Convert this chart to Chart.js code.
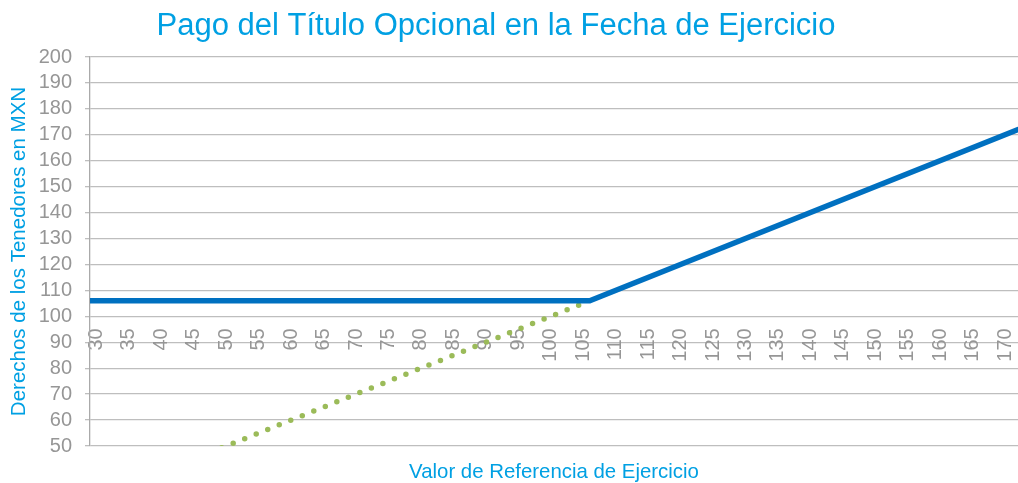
<!DOCTYPE html>
<html>
<head>
<meta charset="utf-8">
<script src="https://cdn.jsdelivr.net/npm/chart.js@4.4.1/dist/chart.umd.min.js"></script>
<style>
  html, body { margin: 0; padding: 0; background: #ffffff; }
  #wrap { width: 1018px; height: 483px; position: relative; }
</style>
</head>
<body>
<div id="wrap"><canvas id="c"></canvas></div>
<script>
// ---- data ----
const chartTitle = 'Pago del Título Opcional en la Fecha de Ejercicio';
const xTitle = 'Valor de Referencia de Ejercicio';
const yTitle = 'Derechos de los Tenedores en MXN';
const xTickLabels = [30,35,40,45,50,55,60,65,70,75,80,85,90,95,100,105,110,115,120,125,130,135,140,145,150,155,160,165,170];
const yTickLabels = [50,60,70,80,90,100,110,120,130,140,150,160,170,180,190,200];
// payoff of the warrant (solid blue)
const payoffX = [29, 106, 172];
const payoffY = [106, 106, 172];
// underlying reference value (green dotted)
const refX = [29, 106];
const refY = [29, 106];

const blue = 'rgb(0,112,192)';
const green = 'rgb(155,187,89)';
const titleBlue = 'rgb(0,160,227)';
const tickGray = 'rgb(150,150,150)';
const gridGray = 'rgb(190,190,190)';
const FONT = "'Liberation Sans', Arial, sans-serif";

const titlePlugin = {
  id: 'customTitle',
  afterDraw(chart) {
    const ctx = chart.ctx;
    ctx.save();
    ctx.font = '31px ' + FONT;
    ctx.fillStyle = titleBlue;
    ctx.textAlign = 'center';
    ctx.textBaseline = 'alphabetic';
    ctx.fillText(chartTitle, 496, 35);
    ctx.restore();
  }
};

new Chart(document.getElementById('c'), {
  type: 'line',
  data: {
    datasets: [
      {
        label: 'Pago',
        data: payoffX.map((x, i) => ({x: x, y: payoffY[i]})),
        borderColor: blue,
        borderWidth: 5.5,
        borderCapStyle: 'round',
        borderJoinStyle: 'miter',
        pointRadius: 0,
        tension: 0,
        order: 1
      },
      {
        label: 'Referencia',
        data: refX.map((x, i) => ({x: x, y: refY[i]})),
        borderColor: green,
        borderWidth: 5.5,
        borderDash: [0, 12.4],
        borderDashOffset: 7,
        borderCapStyle: 'round',
        pointRadius: 0,
        tension: 0,
        order: 2
      }
    ]
  },
  options: {
    responsive: true,
    maintainAspectRatio: false,
    animation: false,
    devicePixelRatio: 1,
    layout: { padding: { top: 57, left: 0, right: 0, bottom: 0 } },
    plugins: {
      legend: { display: false },
      title: { display: false },
      tooltip: { enabled: false }
    },
    scales: {
      x: {
        type: 'linear',
        min: 29,
        max: 172,
        position: { y: 100 },
        afterBuildTicks: (axis) => { axis.ticks = xTickLabels.map(v => ({ value: v })); },
        afterFit: (s) => { s.paddingLeft = 0; s.paddingRight = 0; },
        ticks: {
          autoSkip: false,
          minRotation: 90,
          maxRotation: 90,
          padding: 12,
          color: tickGray,
          font: { family: FONT, size: 20 }
        },
        grid: { display: false, drawTicks: false },
        border: { display: false }
      },
      x2: {
        type: 'linear',
        position: 'bottom',
        display: true,
        afterFit: (s) => { s.height = 37; s.paddingLeft = 0; s.paddingRight = 0; },
        ticks: { display: false },
        grid: { display: false, drawTicks: false },
        border: { display: false },
        title: {
          display: true,
          text: xTitle,
          color: titleBlue,
          font: { family: FONT, size: 20.4, lineHeight: 1 },
          padding: { top: 0, bottom: 0 }
        }
      },
      y: {
        type: 'linear',
        min: 50,
        max: 200,
        afterBuildTicks: (axis) => { axis.ticks = yTickLabels.map(v => ({ value: v })); },
        afterFit: (s) => { s.width = 90; },
        ticks: {
          autoSkip: false,
          padding: 13,
          color: tickGray,
          font: { family: FONT, size: 20 }
        },
        grid: { color: gridGray, lineWidth: 1.3, tickLength: 5, drawTicks: true },
        border: { display: true, color: 'rgb(170,170,170)', width: 1.3 },
        title: {
          display: true,
          text: yTitle,
          color: titleBlue,
          font: { family: FONT, size: 20.5, lineHeight: 1 },
          padding: { top: 9.5, bottom: 0 }
        }
      }
    }
  },
  plugins: [titlePlugin]
});
</script>
</body>
</html>
